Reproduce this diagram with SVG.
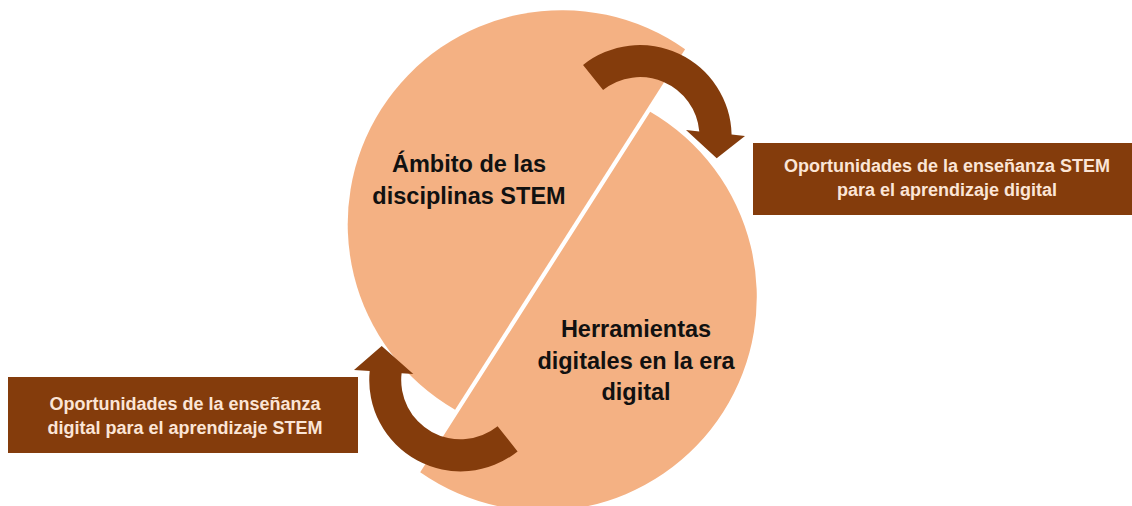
<svg xmlns="http://www.w3.org/2000/svg" width="1132" height="506" viewBox="0 0 1132 506">
  <style>
    .piece { fill: #F4B183; }
    .main { font-family: "Liberation Sans", Arial, sans-serif; font-weight: bold; font-size: 23.5px; fill: #111111; text-anchor: middle; }
    .box { fill: #843C0C; }
    .boxtxt { font-family: "Liberation Sans", Arial, sans-serif; font-weight: bold; font-size: 18px; fill: #FBE5D6; text-anchor: middle; }
    .arrow { fill: #843C0C; }
  </style>
  <rect width="1132" height="506" fill="#ffffff"/>
  <g id="node-stem">
    <path class="piece" d="M 685.1 49.3 A 214 214 0 1 0 455.1 409.7 Z"/>
    <text class="main" x="469" y="172">Ámbito de las</text>
    <text class="main" x="469" y="204">disciplinas STEM</text>
  </g>
  <g id="node-digital">
    <path class="piece" d="M 650.2 111.8 A 214 214 0 1 1 420.2 472.3 Z"/>
    <text class="main" x="636" y="337">Herramientas</text>
    <text class="main" x="636" y="368.5">digitales en la era</text>
    <text class="main" x="636" y="400">digital</text>
  </g>
  <g id="connectors">
    <path class="arrow" d="M 583.05 64.9 A 91.6 91.6 0 0 1 731.6 134.6 L 745 136 L 716.7 158.3 L 686 130 L 699.3 131.4 A 59.5 59.5 0 0 0 603.08 90 Z"/>
    <path class="arrow" d="M 517.6 451.4 A 91.3 91.3 0 0 1 369.7 371.1 L 354 370 L 381.7 346 L 413.3 374 L 401.6 373.2 A 59.3 59.3 0 0 0 497.6 426.3 Z"/>
  </g>
  <g id="node-box-right">
    <rect class="box" x="753" y="143" width="389" height="72"/>
    <text class="boxtxt" x="947" y="172">Oportunidades de la enseñanza STEM</text>
    <text class="boxtxt" x="947" y="196">para el aprendizaje digital</text>
  </g>
  <g id="node-box-left">
    <rect class="box" x="8" y="377" width="350" height="76"/>
    <text class="boxtxt" x="185" y="410">Oportunidades de la enseñanza</text>
    <text class="boxtxt" x="185" y="434">digital para el aprendizaje STEM</text>
  </g>
</svg>
